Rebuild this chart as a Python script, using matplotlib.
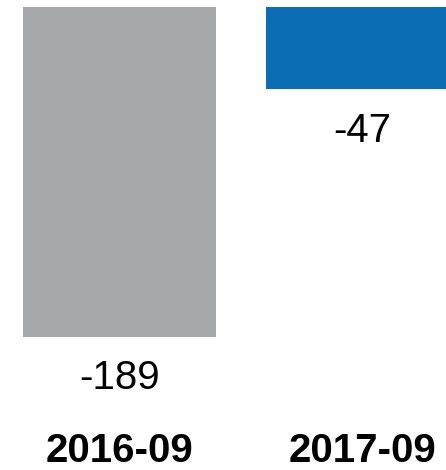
import matplotlib
matplotlib.use('Agg')
import matplotlib.pyplot as plt
import numpy as np

plt.rcParams['font.family'] = ['Liberation Sans', 'DejaVu Sans']

periods = ['2016-09', '2017-09']
values = [-189, -47]
colors = ['#A7A8AB', '#0B6EB5']


def main():
	fig = plt.figure(figsize=(4.46, 4.70), dpi=100)
	# axes: top at the zero line region, bottom leaves room for period labels
	ax = fig.add_axes([0, 60 / 470, 1, 410 / 470])

	x = np.arange(len(values))
	bars = ax.bar(x, values, width=0.794, color=colors, linewidth=0)

	for b, v in zip(bars, values):
		ax.annotate(str(v), (b.get_x() + b.get_width() / 2, v),
			xytext=(0, -37.8), textcoords='offset points',
			ha='center', va='baseline', fontsize=29)

	ax.set_xlim(-0.492, 1.344)
	ax.set_ylim(-403 / 1.746, 7 / 1.746)

	ax.set_xticks(x)
	ax.set_xticklabels(periods, fontsize=29, fontweight='bold')
	ax.tick_params(axis='x', length=0, pad=16)
	ax.set_yticks([])
	for s in ax.spines.values():
		s.set_visible(False)

	fig.savefig('out.png', dpi=100)


if __name__ == "__main__":
	main()
